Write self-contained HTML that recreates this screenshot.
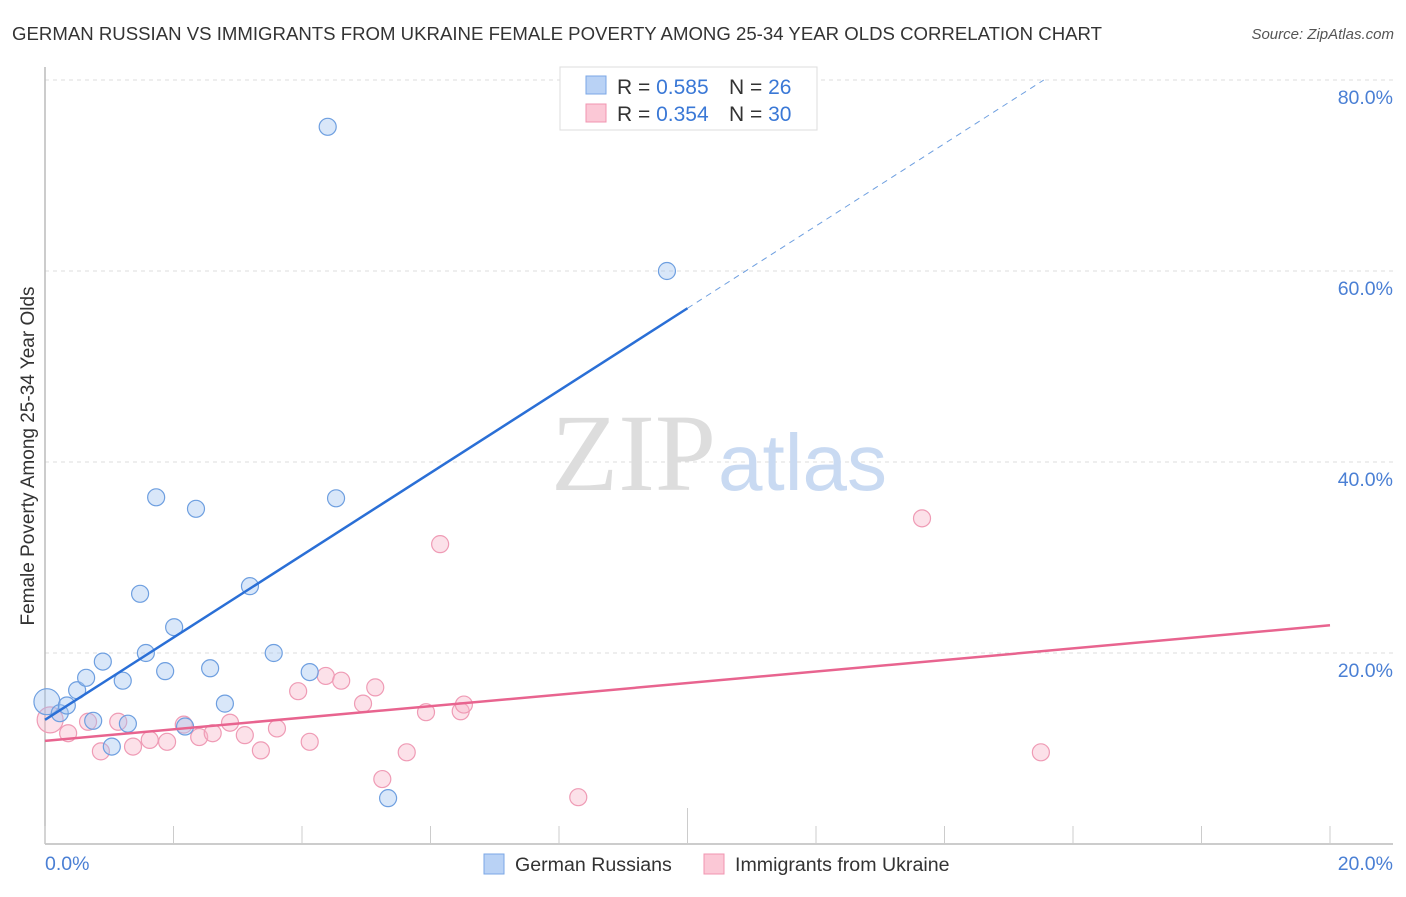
<!DOCTYPE html>
<html><head><meta charset="utf-8"><style>
body{margin:0;background:#fff;font-family:"Liberation Sans",sans-serif;}
svg text{font-family:"Liberation Sans",sans-serif;}
</style></head><body>
<svg id="chart" width="1406" height="892" viewBox="0 0 1406 892">
<text x="12" y="40" font-size="18.6" fill="#333" textLength="1090">GERMAN RUSSIAN VS IMMIGRANTS FROM UKRAINE FEMALE POVERTY AMONG 25-34 YEAR OLDS CORRELATION CHART</text>
<text x="1394" y="39" font-size="15" fill="#555" font-style="italic" text-anchor="end">Source: ZipAtlas.com</text>
<g id="grid"></g>
<text x="716" y="490" font-size="110" fill="#ddd" text-anchor="end" style="font-family:'Liberation Serif',serif">ZIP</text>
<text x="718" y="490" font-size="80" fill="#c9daf2">atlas</text>
<g id="marks"></g>
<text x="34" y="456" font-size="19" fill="#333" text-anchor="middle" transform="rotate(-90 34 456)">Female Poverty Among 25-34 Year Olds</text>
<text x="45" y="870" font-size="19.5" fill="#4a7fd4">0.0%</text>
<text x="1393" y="870" font-size="19.5" fill="#4a7fd4" text-anchor="end">20.0%</text>
<g>
<rect x="560" y="67" width="257" height="63" fill="#fff" stroke="#ddd"/>
<rect x="586" y="76" width="20" height="18" fill="#b9d2f5" stroke="#7ba7e6"/>
<rect x="586" y="104" width="20" height="18" fill="#fbc8d6" stroke="#f095b0"/>
<text x="617" y="94" font-size="21" fill="#333">R = <tspan fill="#3a78d6">0.585</tspan></text>
<text x="729" y="94" font-size="21" fill="#333">N = <tspan fill="#3a78d6">26</tspan></text>
<text x="617" y="121" font-size="21" fill="#333">R = <tspan fill="#3a78d6">0.354</tspan></text>
<text x="729" y="121" font-size="21" fill="#333">N = <tspan fill="#3a78d6">30</tspan></text>
</g>
<g>
<rect x="484" y="854" width="20" height="20" fill="#b9d2f5" stroke="#7ba7e6"/>
<text x="515" y="871" font-size="19.6" fill="#333">German Russians</text>
<rect x="704" y="854" width="20" height="20" fill="#fbc8d6" stroke="#f095b0"/>
<text x="735" y="871" font-size="19.6" fill="#333">Immigrants from Ukraine</text>
</g>
</svg>
<script>
const yTicks=[20,40,60,80];
const xTickVals=[0,2,4,6,8,10,12,14,16,18,20];
const blueX=[0.03,0.23,0.34,0.50,0.64,0.75,0.90,1.04,1.21,1.29,1.48,1.57,1.73,1.87,2.01,2.18,2.35,2.57,2.80,3.19,3.56,4.12,4.40,4.53,5.34,9.68];
const blueY=[14.9,13.7,14.5,16.1,17.4,12.9,19.1,10.2,17.1,12.6,26.2,20.0,36.3,18.1,22.7,12.3,35.1,18.4,14.7,27.0,20.0,18.0,75.1,36.2,4.8,60.0];
const pinkX=[0.08,0.36,0.67,0.87,1.14,1.37,1.63,1.90,2.16,2.40,2.61,2.88,3.11,3.36,3.61,3.94,4.12,4.37,4.61,4.95,5.14,5.25,5.63,5.93,6.15,6.47,6.52,8.30,13.65,15.50];
const pinkY=[13.0,11.6,12.8,9.7,12.8,10.2,10.9,10.7,12.5,11.2,11.6,12.7,11.4,9.8,12.1,16.0,10.7,17.6,17.1,14.7,16.4,6.8,9.6,13.8,31.4,13.9,14.6,4.9,34.1,9.6];
const blueTrend=[13.0,56.1];   // y at x=0 and x=10
const pinkTrend=[10.8,22.9];   // y at x=0 and x=20
const NS='http://www.w3.org/2000/svg';
const sx=v=>45+v*64.25, sy=v=>844-v*9.55;
const grid=document.getElementById('grid'), marks=document.getElementById('marks');
function mk(tag,attrs,parent){const e=document.createElementNS(NS,tag);for(const k in attrs)e.setAttribute(k,attrs[k]);parent.appendChild(e);return e;}
yTicks.forEach(t=>{
  const l=mk('line',{x1:45,x2:1393,y1:sy(t),y2:sy(t),stroke:'#ddd','stroke-dasharray':'4,4'},grid);
  
  
  const tx=mk('text',{x:1393,y:sy(t)+24,'font-size':19.5,fill:'#4a7fd4','text-anchor':'end'},grid);
  tx.textContent=t.toFixed(1)+'%';
  
  
});
const ax=mk('line',{x1:45,x2:1393,y1:844,y2:844,stroke:'#bbb','stroke-width':1.5},grid);


const ay=mk('line',{x1:45,x2:45,y1:67,y2:844,stroke:'#bbb','stroke-width':1.5},grid);


xTickVals.forEach(t=>{
  const tk=mk('line',{x1:sx(t),x2:sx(t),y1:t===10?808:826,y2:844,stroke:'#ccc'},grid);
  
  
});
function dot(x,y,fill,stroke,r){
  return mk('circle',{cx:sx(x),cy:sy(y),r:r,fill:fill,stroke:stroke,'stroke-width':1.2},marks);
}
pinkX.forEach((x,i)=>{
  const c=dot(x,pinkY[i],'rgba(248,180,200,0.4)','#ef9bb5',i===0?13:8.5);
  
  
});
blueX.forEach((x,i)=>{
  const c=dot(x,blueY[i],'rgba(160,195,240,0.4)','#6e9fe0',i===0?13:8.5);
  
  
});
const slope=(blueTrend[1]-blueTrend[0])/10;
const xEnd=(80-blueTrend[0])/slope;
const bd=mk('line',{x1:sx(10),y1:sy(blueTrend[1]),x2:sx(xEnd),y2:sy(80),stroke:'#6e9fe0','stroke-width':1,'stroke-dasharray':'6,5'},marks);


const bl=mk('line',{x1:sx(0),y1:sy(blueTrend[0]),x2:sx(10),y2:sy(blueTrend[1]),stroke:'#2a6fd6','stroke-width':2.5},marks);


const pl=mk('line',{x1:sx(0),y1:sy(pinkTrend[0]),x2:sx(20),y2:sy(pinkTrend[1]),stroke:'#e8648f','stroke-width':2.5},marks);


</script>
</body></html>
